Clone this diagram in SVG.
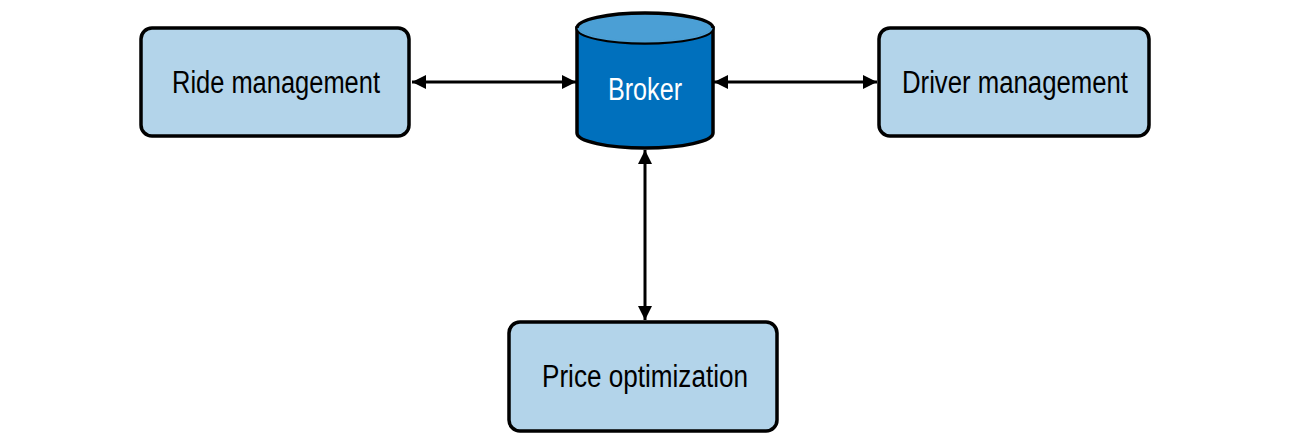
<svg xmlns="http://www.w3.org/2000/svg" width="1292" height="446" viewBox="0 0 1292 446">
<style>
.box{fill:#b3d4ea;stroke:#000;stroke-width:3.5}
.lbl{font-family:"Liberation Sans",Arial,sans-serif;font-size:31px;fill:#000;text-anchor:middle}
.conn{stroke:#000;stroke-width:3;fill:none}
</style>
<defs>
<marker id="ah" viewBox="0 0 14 14" refX="14" refY="7" markerWidth="14" markerHeight="14" markerUnits="userSpaceOnUse" orient="auto-start-reverse">
<path d="M0,0 L14,7 L0,14 Z" fill="#000"/>
</marker>
</defs>
<rect width="1292" height="446" fill="#fff"/>
<g id="connectors">
<line class="conn" x1="412" y1="82" x2="576" y2="82" marker-start="url(#ah)" marker-end="url(#ah)"/>
<line class="conn" x1="714" y1="82" x2="877" y2="82" marker-start="url(#ah)" marker-end="url(#ah)"/>
<line class="conn" x1="645" y1="150" x2="645" y2="320" marker-start="url(#ah)" marker-end="url(#ah)"/>
</g>
<g id="ride">
<rect class="box" x="141" y="28" width="268" height="108" rx="11"/>
<text class="lbl" x="276" y="93" textLength="208" lengthAdjust="spacingAndGlyphs">Ride management</text>
</g>
<g id="driver">
<rect class="box" x="879" y="28" width="270" height="108" rx="11"/>
<text class="lbl" x="1015" y="93" textLength="226" lengthAdjust="spacingAndGlyphs">Driver management</text>
</g>
<g id="price">
<rect class="box" x="509" y="322" width="268" height="109" rx="11"/>
<text class="lbl" x="645" y="387" textLength="206" lengthAdjust="spacingAndGlyphs">Price optimization</text>
</g>
<g id="broker">
<path d="M577,28 L577,133 A68,15 0 0 0 713,133 L713,28 Z" fill="#0070bd" stroke="#000" stroke-width="3.5"/>
<ellipse cx="645" cy="28" rx="68" ry="15" fill="#4b9fd5" stroke="#000" stroke-width="3.5"/>
<path d="M578.5,28 A66.5,13.5 0 0 0 711.5,28" fill="none" stroke="#4b9fd5" stroke-width="2"/>
<text x="645" y="100" textLength="74" lengthAdjust="spacingAndGlyphs" style="font-family:'Liberation Sans',Arial,sans-serif;font-size:31px;fill:#fff;text-anchor:middle">Broker</text>
</g>
</svg>
